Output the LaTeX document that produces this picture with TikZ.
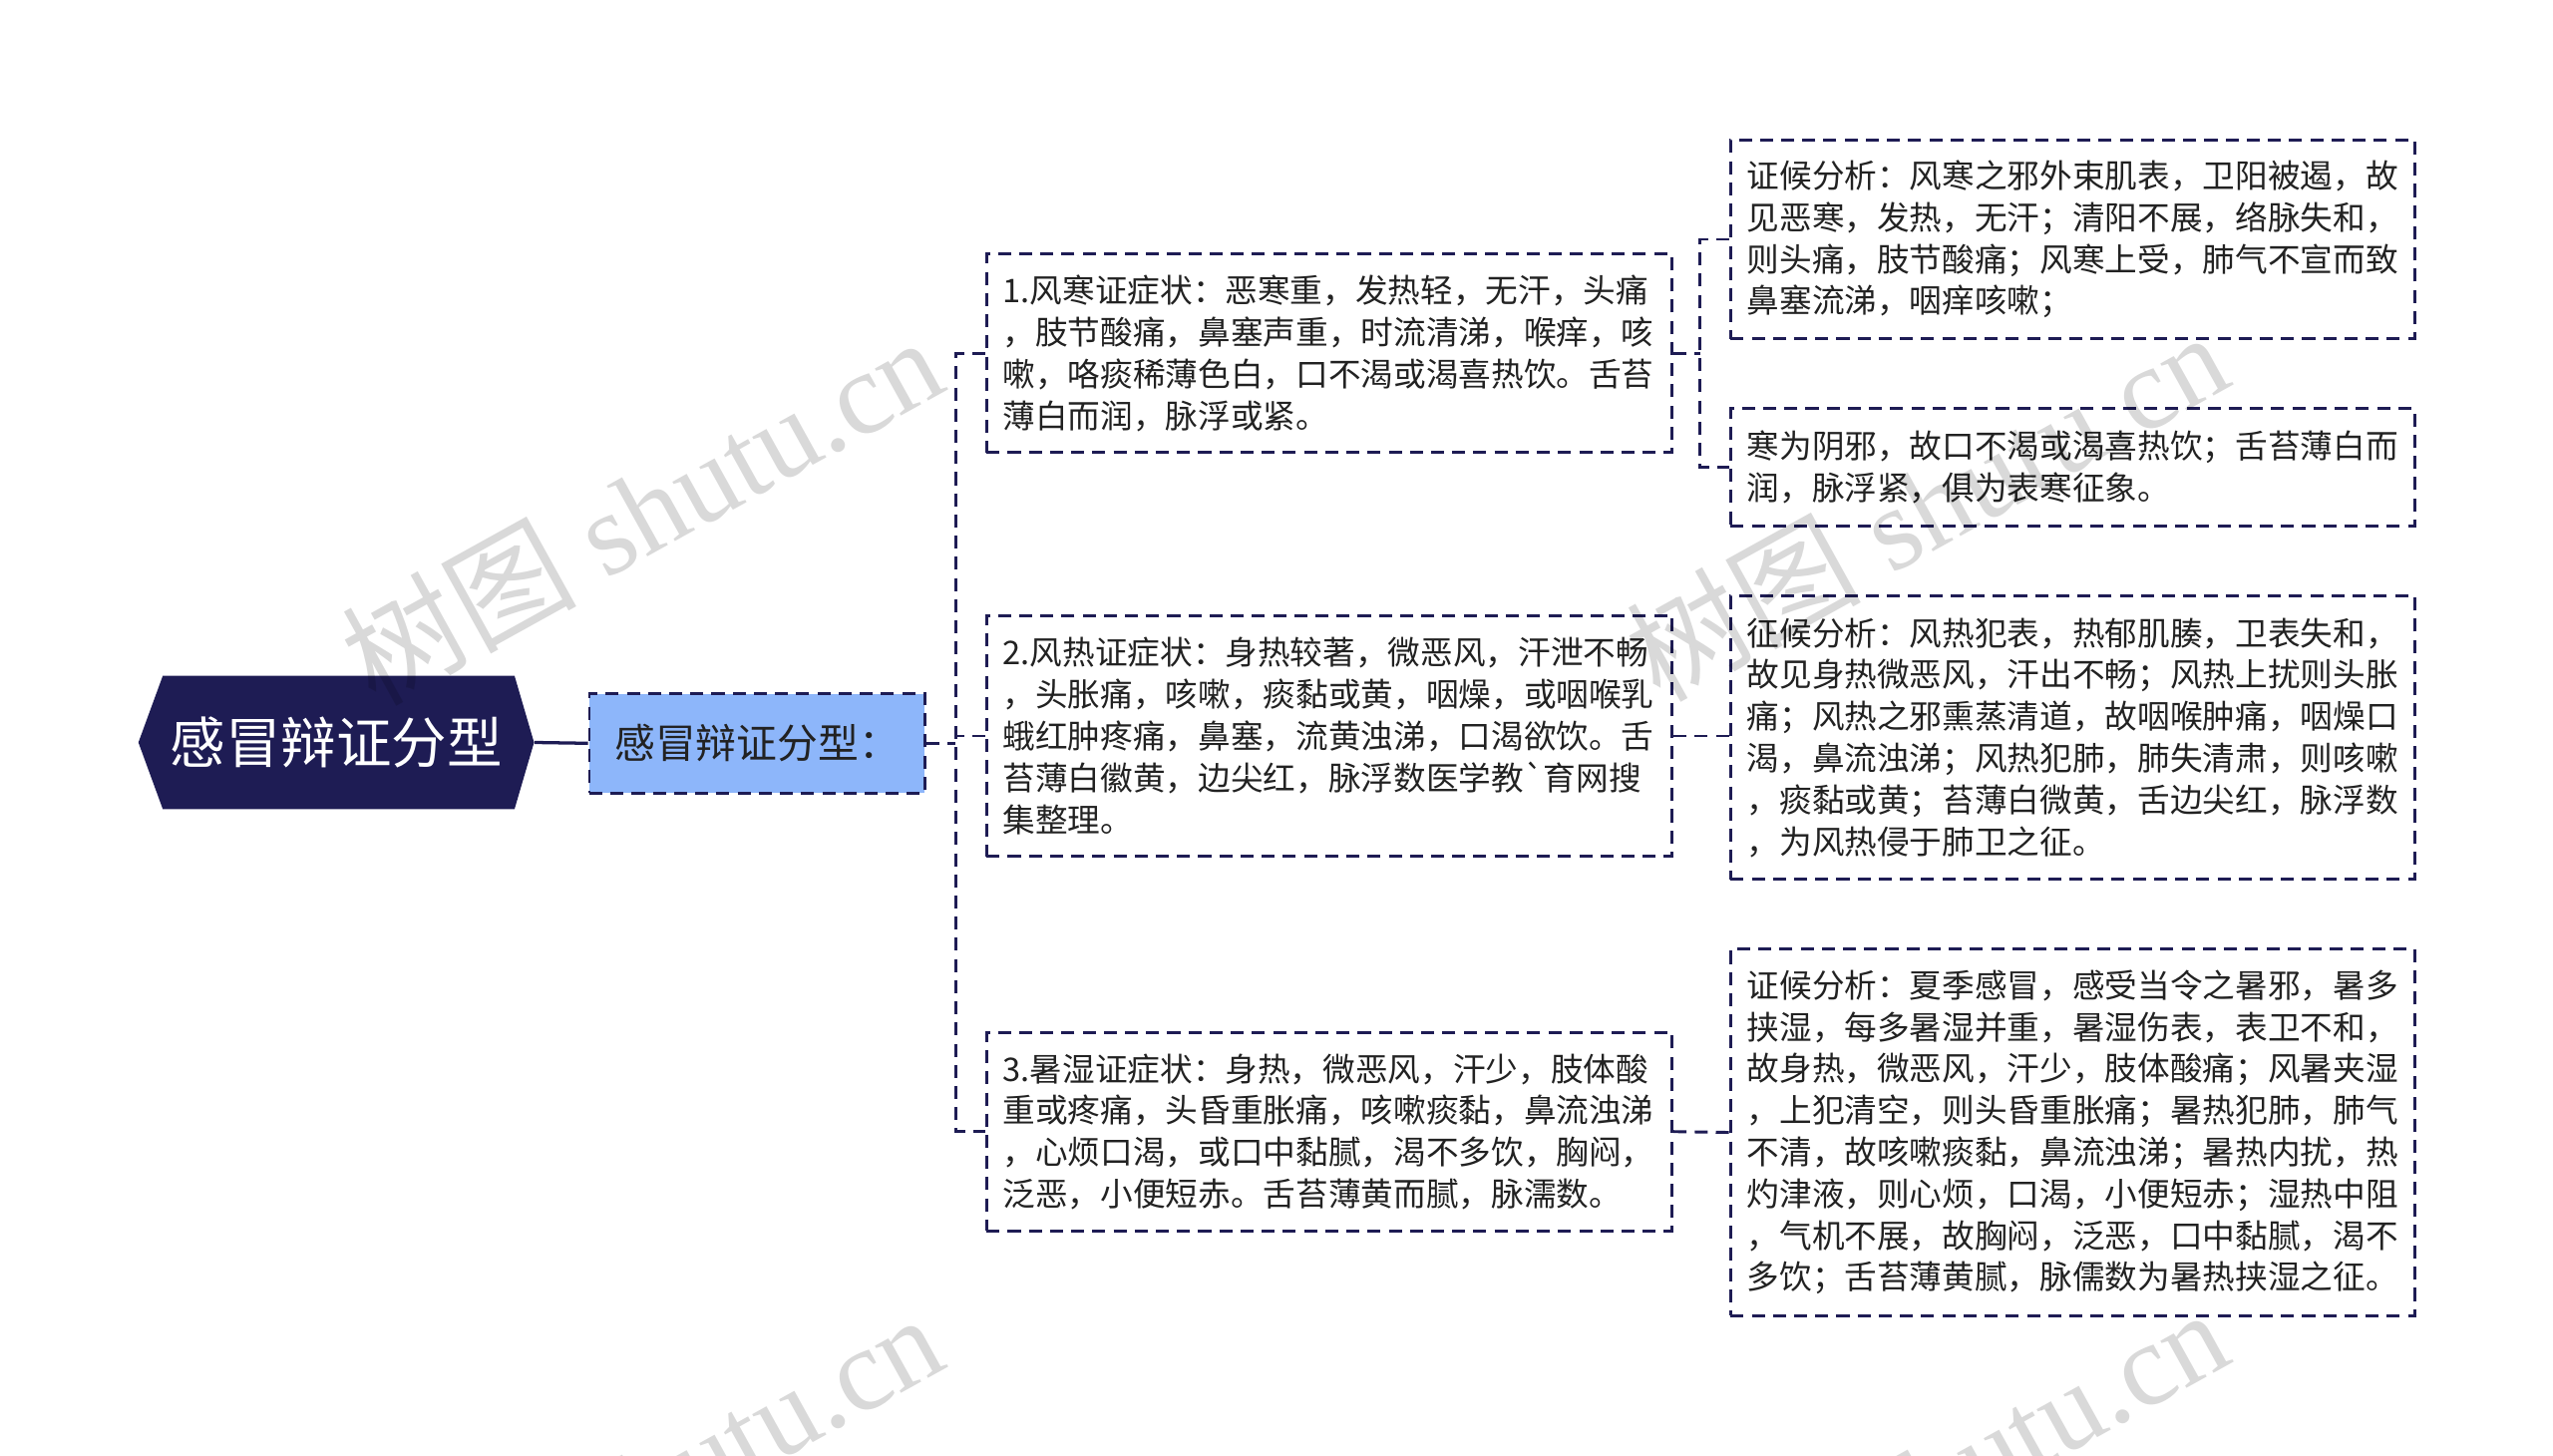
\documentclass[tikz,border=0pt]{standalone}
\usepackage{fontspec}
\newfontfamily\cjk{Noto Sans CJK SC}
\newfontfamily\wmserif{Liberation Serif}
\definecolor{navy}{HTML}{1E1C54}
\definecolor{lblue}{HTML}{8DB6FA}
\definecolor{textc}{HTML}{222222}
\tikzset{
  dashline/.style={draw=navy, line width=1.8pt, dash pattern=on 8pt off 5pt},
  txtbox/.style={dashline, fill=white, text width=401pt, align=left, inner xsep=10pt, inner ysep=0pt, anchor=west,
     font=\cjk\fontsize{20}{25.6}\selectfont, text=textc},
  conn/.style={dashline},
  wm/.style={rotate=29, text=black, opacity=0.15, font=\wmserif\fontsize{72}{72}\selectfont}
}
\begin{document}
\begin{tikzpicture}[x=1pt,y=1pt]
\useasboundingbox (0,0) rectangle (1568,-894);

% root hexagon
\fill[navy] (85,-456) -- (100,-415) -- (316,-415) -- (328,-456) -- (316,-497) -- (100,-497) -- cycle;
\node[minimum width=243pt, minimum height=82pt, inner sep=0pt, text=white, font=\cjk\fontsize{34}{34}\selectfont] (root) at (206.5,-456) {感冒辩证分型};

% second level
\node[dashline, fill=lblue, minimum width=206pt, minimum height=61pt, inner sep=0pt, text=textc, font=\cjk\fontsize{25}{25}\selectfont] (n2) at (465,-456.5) {感冒辩证分型：};

% third level
\node[txtbox, minimum height=122pt] (b1) at (605,-217) {1.风寒证症状：恶寒重，发热轻，无汗，头痛\\，肢节酸痛，鼻塞声重，时流清涕，喉痒，咳\\嗽，咯痰稀薄色白，口不渴或渴喜热饮。舌苔\\薄白而润，脉浮或紧。};
\node[txtbox, minimum height=148pt] (b2) at (605,-452) {2.风热证症状：身热较著，微恶风，汗泄不畅\\，头胀痛，咳嗽，痰黏或黄，咽燥，或咽喉乳\\蛾红肿疼痛，鼻塞，流黄浊涕，口渴欲饮。舌\\苔薄白徽黄，边尖红，脉浮数医学教`育网搜\\集整理。};
\node[txtbox, minimum height=122pt] (b3) at (605,-695) {3.暑湿证症状：身热，微恶风，汗少，肢体酸\\重或疼痛，头昏重胀痛，咳嗽痰黏，鼻流浊涕\\，心烦口渴，或口中黏腻，渴不多饮，胸闷，\\泛恶，小便短赤。舌苔薄黄而腻，脉濡数。};

% fourth level
\node[txtbox, text width=400pt, minimum height=122pt] (c1) at (1062,-147) {证候分析：风寒之邪外束肌表，卫阳被遏，故\\见恶寒，发热，无汗；清阳不展，络脉失和，\\则头痛，肢节酸痛；风寒上受，肺气不宣而致\\鼻塞流涕，咽痒咳嗽；};
\node[txtbox, text width=400pt, minimum height=72pt] (c2) at (1062,-287) {寒为阴邪，故口不渴或渴喜热饮；舌苔薄白而\\润，脉浮紧，俱为表寒征象。};
\node[txtbox, text width=400pt, minimum height=174pt] (c3) at (1062,-453) {征候分析：风热犯表，热郁肌腠，卫表失和，\\故见身热微恶风，汗出不畅；风热上扰则头胀\\痛；风热之邪熏蒸清道，故咽喉肿痛，咽燥口\\渴，鼻流浊涕；风热犯肺，肺失清肃，则咳嗽\\，痰黏或黄；苔薄白微黄，舌边尖红，脉浮数\\，为风热侵于肺卫之征。};
\node[txtbox, text width=400pt, minimum height=225pt] (c4) at (1062,-695.5) {证候分析：夏季感冒，感受当令之暑邪，暑多\\挟湿，每多暑湿并重，暑湿伤表，表卫不和，\\故身热，微恶风，汗少，肢体酸痛；风暑夹湿\\，上犯清空，则头昏重胀痛；暑热犯肺，肺气\\不清，故咳嗽痰黏，鼻流浊涕；暑热内扰，热\\灼津液，则心烦，口渴，小便短赤；湿热中阻\\，气机不展，故胸闷，泛恶，口中黏腻，渴不\\多饮；舌苔薄黄腻，脉儒数为暑热挟湿之征。};

% connectors
\draw[navy, line width=2pt] (root.east) -- (n2.west);
\coordinate (j1) at (587,-456.5);
\draw[conn] (n2.east) -- (j1);
\draw[conn] (b1.west) -- ++(-18,0) |- (b3.west);
\draw[conn] (b2.west) -- (b2.west -| j1);
\coordinate (j2) at (1044,-217);
\draw[conn] (b1.east) -- (j2);
\draw[conn] (c1.west) -- ++(-18,0) |- (c2.west);
\draw[conn] (b2.east) -- (c3.west |- b2.east);
\draw[conn] (b3.east) -- (c4.west);

% watermarks
\begin{scope}
\clip (0,0) rectangle (1568,-894);
\node[wm] (w1) at (394,-313) {{\cjk 树图} shutu.cn};
\node[wm] (w2) at (1183,-310) {{\cjk 树图} shutu.cn};
\node[wm] (w3) at (394,-913) {{\cjk 树图} shutu.cn};
\node[wm] (w4) at (1183,-910) {{\cjk 树图} shutu.cn};
\end{scope}
\end{tikzpicture}
\end{document}
